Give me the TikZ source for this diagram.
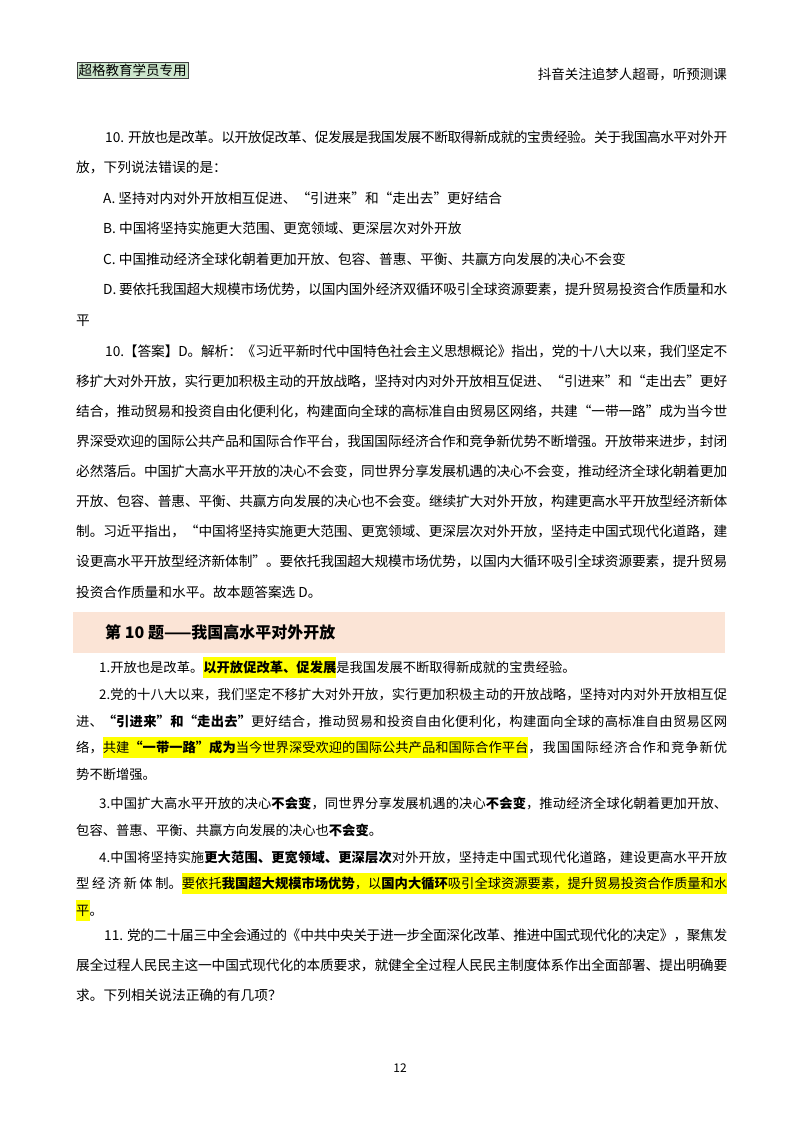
\documentclass[tikz,border=0pt]{standalone}
\usepackage{fontspec}
\setmainfont{Noto Sans CJK SC}
\XeTeXlinebreaklocale "zh"
\XeTeXlinebreakskip=0pt plus 2pt minus 0.6pt
\definecolor{hly}{HTML}{FFFF00}
\definecolor{barc}{HTML}{FBE4D6}
\definecolor{tagc}{HTML}{CCE6CC}
\newcommand\hlt[1]{{\setlength\fboxsep{0pt}\colorbox{hly}{\rule[-5.5pt]{0pt}{21pt}#1}}}
\newcommand\fr{\rule{0pt}{16pt}}
\newcommand\setpar{\lineskiplimit=-30pt\relax\lineskip=0pt\relax\parindent=0pt\relax}
\tikzset{
 para/.style={anchor=north west, text width=651pt, inner sep=0pt, align=justify, execute at begin node=\setpar},
 qfont/.style={font=\fontsize{13.7}{30.5}\selectfont},
 sfont/.style={font=\fontsize{13.3}{26.8}\selectfont},
 lone/.style={anchor=base west, inner sep=0pt, font=\fontsize{13.3}{16}\selectfont}
}
\begin{document}
\begin{tikzpicture}[x=1pt,y=-1pt]
\useasboundingbox[fill=white] (0,0) rectangle (800,1132);
% header
\node[draw=black!75, fill=tagc, inner sep=1.5pt, anchor=west, font=\fontsize{13.5}{15}\selectfont] (tag) at (77,70.5) {超格教育学员专用};
\node[anchor=base east, inner sep=0pt, font=\fontsize{13.5}{15}\selectfont] (hr) at (727,80) {抖音关注追梦人超哥，听预测课};
% question 10
\node[para, qfont] (q10) at (76,126) {\fr\hspace*{29pt}10. 开放也是改革。以开放促改革、促发展是我国发展不断取得新成就的宝贵经验。关于我国高水平对外开\linebreak
放，下列说法错误的是：\\
\hspace*{27pt}A. 坚持对内对外开放相互促进、“引进来”和“走出去”更好结合\\
\hspace*{27pt}B. 中国将坚持实施更大范围、更宽领域、更深层次对外开放\\
\hspace*{27pt}C. 中国推动经济全球化朝着更加开放、包容、普惠、平衡、共赢方向发展的决心不会变\\
\hspace*{27pt}D. 要依托我国超大规模市场优势，以国内国外经济双循环吸引全球资源要素，提升贸易投资合作质量和水\linebreak
平};
% answer
\node[para, qfont, font=\fontsize{13.7}{30.1}\selectfont] (ans) at (76,340) {\fr\hspace*{29pt}10.【答案】D。解析：《习近平新时代中国特色社会主义思想概论》指出，党的十八大以来，我们坚定不\linebreak
移扩大对外开放，实行更加积极主动的开放战略，坚持对内对外开放相互促进、“引进来”和“走出去”更好\linebreak
结合，推动贸易和投资自由化便利化，构建面向全球的高标准自由贸易区网络，共建“一带一路”成为当今世\linebreak
界深受欢迎的国际公共产品和国际合作平台，我国国际经济合作和竞争新优势不断增强。开放带来进步，封闭\linebreak
必然落后。中国扩大高水平开放的决心不会变，同世界分享发展机遇的决心不会变，推动经济全球化朝着更加\linebreak
开放、包容、普惠、平衡、共赢方向发展的决心也不会变。继续扩大对外开放，构建更高水平开放型经济新体\linebreak
制。习近平指出，“中国将坚持实施更大范围、更宽领域、更深层次对外开放，坚持走中国式现代化道路，建\linebreak
设更高水平开放型经济新体制”。要依托我国超大规模市场优势，以国内大循环吸引全球资源要素，提升贸易\linebreak
投资合作质量和水平。故本题答案选 D。};
% heading bar
\fill[barc] (73,612) rectangle (725,653);
\node[anchor=west, inner sep=0pt, font=\fontsize{16}{18}\selectfont\bfseries] (head) at (105,632) {第 10 题——我国高水平对外开放};
% section points
\node[lone] (p1) at (99,672) {1.开放也是改革。\hlt{\textbf{以开放促改革、促发展}}是我国发展不断取得新成就的宝贵经验。};
\node[para, sfont] (p2) at (76,683) {\fr\hspace*{23pt}2.党的十八大以来，我们坚定不移扩大对外开放，实行更加积极主动的开放战略，坚持对内对外开放相互促\linebreak
进、\textbf{“引进来”和“走出去”}更好结合，推动贸易和投资自由化便利化，构建面向全球的高标准自由贸易区网\linebreak
络，\hlt{共建\textbf{“一带一路”成为}当今世界深受欢迎的国际公共产品和国际合作平台}，我国国际经济合作和竞争新优\linebreak
势不断增强。};
\node[para, sfont] (p3) at (76,792) {\fr\hspace*{23pt}3.中国扩大高水平开放的决心\textbf{不会变}，同世界分享发展机遇的决心\textbf{不会变}，推动经济全球化朝着更加开放、\linebreak
包容、普惠、平衡、共赢方向发展的决心也\textbf{不会变}。};
\node[para, sfont, font=\fontsize{13.3}{26.5}\selectfont] (p4) at (76,846) {\fr\hspace*{23pt}4.中国将坚持实施\textbf{更大范围、更宽领域、更深层次}对外开放，坚持走中国式现代化道路，建设更高水平开放\linebreak
型经济新体制。\hlt{要依托\textbf{我国超大规模市场优势}，以\textbf{国内大循环}吸引全球资源要素，提升贸易投资合作质量和水}\linebreak
\hlt{平}。};
% question 11
\node[para, qfont, font=\fontsize{13.7}{30}\selectfont] (q11) at (76,924) {\fr\hspace*{28pt}11. 党的二十届三中全会通过的《中共中央关于进一步全面深化改革、推进中国式现代化的决定》，聚焦发\linebreak
展全过程人民民主这一中国式现代化的本质要求，就健全全过程人民民主制度体系作出全面部署、提出明确要\linebreak
求。下列相关说法正确的有几项？};
% page number
\node[inner sep=0pt, font=\fontsize{12}{14}\selectfont] (pg) at (400,1068) {12};
\end{tikzpicture}
\end{document}
